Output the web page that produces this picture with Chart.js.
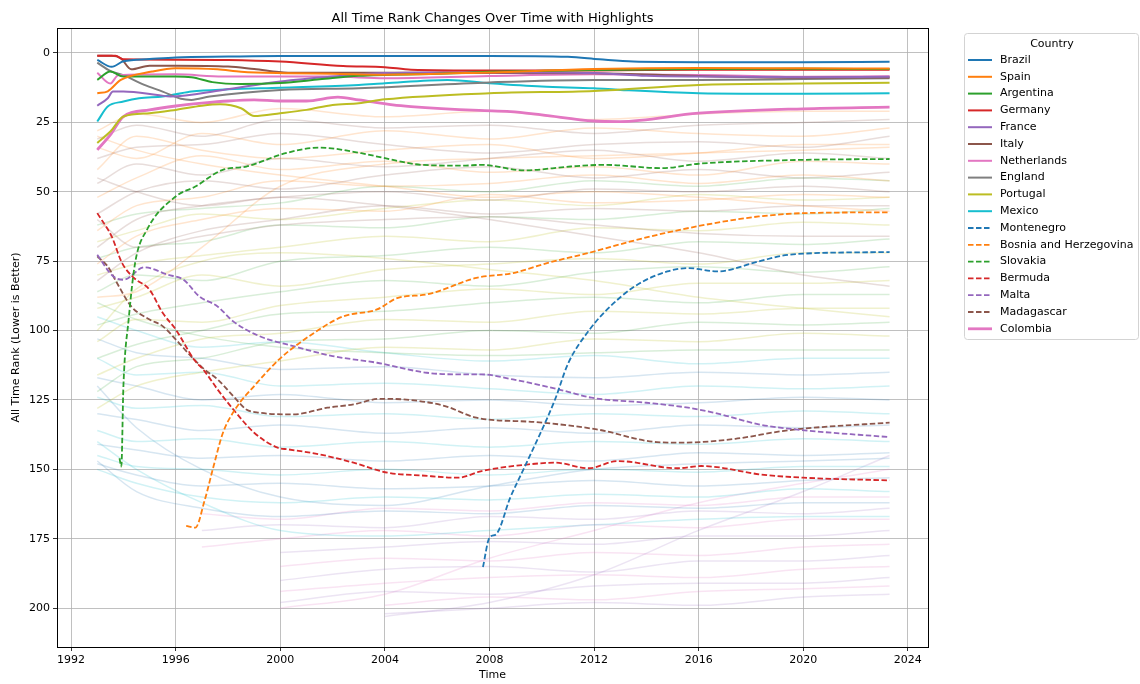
<!DOCTYPE html>
<html>
<head>
<meta charset="utf-8">
<title>All Time Rank Changes Over Time with Highlights</title>
<script src="https://cdn.jsdelivr.net/npm/chart.js@4.4.1/dist/chart.umd.min.js"></script>
<style>
    html, body { margin: 0; padding: 0; background: #fff; }
    canvas { display: block; }
</style>
</head>
<body>
<canvas id="rankChart" width="1140" height="684"></canvas>
<script>
// Highlighted countries: [year, rank] pairs
var brazil = [[1993, 2.5], [1993.55, 5], [1994, 3], [1995, 2.2], [1996, 1.6], [1998, 1.3], [2000, 1.1], [2004, 1.1], [2008, 1.1], [2011, 1.4], [2012.2, 2.3], [2013.5, 3.1], [2016, 3.3], [2020, 3.3], [2023.3, 3.2]];
var spain = [[1993, 14.5], [1993.4, 13.8], [1993.9, 9.7], [1995.1, 6.7], [1996, 5.5], [1997.6, 5.9], [1998.5, 6.8], [2000.3, 7.3], [2002, 7.5], [2004, 7.8], [2008, 7], [2012, 5.8], [2016, 5.4], [2020, 5.5], [2023.3, 5.6]];
var argentina = [[1993, 9.7], [1993.5, 6.7], [1994, 8.5], [1996, 8.5], [1996.6, 8.7], [1997.4, 10.5], [1998.5, 11.2], [2000, 10.8], [2001.5, 9.5], [2003, 8.2], [2006, 7.5], [2008, 6.8], [2012, 6.1], [2016, 5.8], [2020, 5.7], [2023.3, 5.8]];
var germany = [[1993, 1], [1993.7, 1], [1994, 2.3], [1996, 2.4], [1998, 2.5], [2000, 3.1], [2002.4, 4.7], [2004, 5.1], [2005, 6], [2008, 6.3], [2012, 6.3], [2016, 6], [2020, 6], [2023.3, 6]];
var france = [[1993, 19], [1993.4, 16.3], [1993.6, 13.9], [1994, 13.9], [1995.3, 15.1], [1995.8, 15.7], [1997.8, 13.3], [2000, 10.3], [2002, 8.5], [2004, 7.2], [2008, 6.9], [2012, 7.2], [2014, 8.2], [2016, 8.5], [2020, 8.7], [2023.3, 8.6]];
var italy = [[1993, 1], [1993.55, 1], [1993.9, 1.9], [1994.3, 5.9], [1995, 4.6], [1996, 4.6], [1998, 4.9], [1999, 5.8], [2000.3, 7.1], [2003, 7.1], [2008, 7.2], [2012, 7.3], [2016, 8.3], [2020, 8.9], [2023.3, 8.8]];
var netherlands = [[1993, 7.1], [1993.5, 11], [1993.8, 8], [1996, 7.7], [1997.8, 8.5], [2002, 8.5], [2004, 9.1], [2008, 8.3], [2012, 7.7], [2016, 7.9], [2020, 8.6], [2023.3, 8.4]];
var england = [[1993, 3.5], [1993.5, 6.5], [1994, 8], [1994.8, 11.5], [1995.5, 13.9], [1996.2, 16.5], [1996.6, 16.9], [1997.3, 15.7], [2000, 13.3], [2003, 12.7], [2008, 10.6], [2012, 9.7], [2016, 9.7], [2020, 9.4], [2023.3, 9.1]];
var portugal = [[1993, 32.4], [1993.5, 28.3], [1994, 22.9], [1995, 21.7], [1996, 20.5], [1997, 19], [1997.7, 18.5], [1998.5, 19.9], [1999, 22.7], [2000, 21.7], [2001, 20.5], [2002, 18.7], [2003, 18.1], [2004, 16.7], [2008, 14.5], [2012, 13.7], [2016, 11.5], [2020, 11], [2023.3, 10.7]];
var mexico = [[1993, 24.7], [1993.4, 19.3], [1994, 17.5], [1994.6, 16.3], [1995.5, 15.7], [1996, 14.9], [1996.6, 13.9], [1998, 13.1], [2000, 12.5], [2003, 11.5], [2004, 10.9], [2006.4, 9.7], [2008, 10.9], [2010, 12.1], [2012, 12.7], [2013, 13.3], [2016, 14.5], [2020, 14.7], [2023.3, 14.5]];
var montenegro = [[2007.75, 185.2], [2008, 174.6], [2008.25, 173.4], [2008.8, 160], [2009.3, 150], [2010.5, 125], [2011, 112], [2011.8, 100], [2012.5, 92.4], [2013.55, 84.1], [2014.8, 78.7], [2015.6, 77.5], [2016.7, 78.7], [2018.3, 75.1], [2019.2, 73], [2020, 72.3], [2023.3, 71.7]];
var bosnia = [[1996.4, 170.4], [1996.75, 171], [1997.1, 161.4], [1997.45, 148.8], [1997.8, 137], [1998.3, 128], [1999, 120], [2000, 110], [2001.3, 100.8], [2002.4, 94.9], [2003.7, 92.4], [2004.5, 88.2], [2005.6, 87], [2007.5, 81], [2008.9, 79.3], [2010.2, 75.7], [2011.8, 72], [2013.4, 67.9], [2014.7, 64.9], [2016.6, 61.3], [2018.3, 58.9], [2020, 57.7], [2023.3, 57.4]];
var slovakia = [[1993.85, 146], [1993.92, 149], [1994, 120], [1994.2, 96], [1994.45, 75.5], [1994.9, 63.7], [1996, 51.7], [1996.75, 48.1], [1997.8, 42.1], [1998.7, 40.9], [2000.2, 36.1], [2001.5, 34.1], [2003.1, 36.1], [2004, 37.9], [2005.4, 40.3], [2007, 40.6], [2007.7, 40.3], [2009.3, 42.3], [2011.1, 40.9], [2012.4, 40.3], [2014.6, 41.5], [2016, 39.9], [2020, 38.5], [2023.3, 38.2]];
var bermuda = [[1993, 57.7], [1993.55, 66.1], [1993.95, 75.7], [1994.4, 81], [1995, 85.3], [1995.5, 93.6], [1996, 99.6], [1996.7, 110.4], [1997.1, 114.6], [1997.6, 121.2], [1998.2, 128.4], [1999, 136.8], [1999.9, 142.2], [2000.3, 142.8], [2001.5, 144.6], [2002.8, 147.6], [2004.1, 151.2], [2005.4, 152.2], [2006.8, 153], [2007.7, 150.6], [2009.5, 148.2], [2010.5, 147.6], [2011.8, 149.6], [2012.9, 147], [2015.2, 149.6], [2016.1, 148.8], [2018.5, 152], [2020, 153], [2023.3, 154]];
var malta = [[1993, 72.7], [1993.6, 80.4], [1994, 81.7], [1994.8, 77.2], [1995.7, 79.9], [1996.3, 81.7], [1996.9, 87.7], [1997.6, 91.3], [1998.2, 96.7], [1999.2, 102], [2000.5, 105.6], [2002, 109.2], [2003.7, 111.6], [2005.6, 115.2], [2006.9, 115.8], [2007.7, 115.8], [2008.9, 117.6], [2010.9, 121.8], [2011.9, 124.2], [2014, 126], [2015.6, 127.8], [2016.85, 130.2], [2018.3, 133.8], [2019.7, 135.6], [2023.3, 138.4]];
var madagascar = [[1993, 73.3], [1993.4, 76.9], [1993.75, 82.8], [1994.3, 91.3], [1995, 96], [1995.5, 98.4], [1996, 103.2], [1996.7, 110.4], [1997.1, 114], [1997.6, 117.6], [1998.2, 123.6], [1998.7, 128.4], [1999.2, 129.6], [2000.5, 130.2], [2001.8, 127.8], [2002.8, 126.6], [2003.8, 124.6], [2004.7, 124.8], [2006.3, 127.2], [2007.5, 131.4], [2009.8, 133], [2012.1, 135.6], [2014.4, 140.2], [2015.3, 140.4], [2017.4, 139], [2019.2, 136.2], [2020.4, 135], [2023.3, 133.2]];
var colombia = [[1993, 34.9], [1993.5, 29.5], [1994, 22.9], [1995, 20.5], [1996, 19.1], [1997, 18.1], [1998, 17.3], [1999, 16.9], [2000, 17.3], [2001, 17.3], [2002.2, 15.9], [2003, 16.9], [2004.3, 18.7], [2005, 19.3], [2007.6, 20.7], [2008.8, 21.1], [2010, 22.3], [2012, 24.5], [2013, 24.7], [2016, 21.7], [2020, 20.1], [2023.3, 19.5]];

var highlightNames = ['Brazil', 'Spain', 'Argentina', 'Germany', 'France', 'Italy', 'Netherlands', 'England', 'Portugal', 'Mexico',
    'Montenegro', 'Bosnia and Herzegovina', 'Slovakia', 'Bermuda', 'Malta', 'Madagascar', 'Colombia'];
var highlightSeries = [brazil, spain, argentina, germany, france, italy, netherlands, england, portugal, mexico,
    montenegro, bosnia, slovakia, bermuda, malta, madagascar, colombia];

// All other countries (faint lines), ranks at these years; null = not ranked yet
var bgYears = [1993, 1994.5, 1997, 2000, 2004, 2008, 2012, 2016, 2020, 2023.3];
var bgTop = [
    [28, 22, 25, 20, 23, 21, 24, 22, 21, 21],
    [31, 26, 30, 24, 27, 26, 29, 26, 25, 24],
    [34, 38, 29, 33, 28, 31, 27, 29, 30, 27],
    [38, 34, 33, 29, 33, 36, 33, 32, 34, 30],
    [42, 30, 35, 38, 35, 33, 38, 36, 33, 33],
    [47, 40, 44, 38, 41, 38, 35, 39, 36, 38],
    [52, 45, 37, 42, 39, 43, 41, 44, 39, 40],
    [58, 50, 46, 49, 44, 41, 45, 42, 45, 43],
    [64, 55, 52, 46, 48, 47, 44, 47, 44, 46],
    [70, 60, 55, 52, 50, 53, 49, 50, 48, 50],
    [76, 66, 60, 56, 57, 51, 54, 53, 51, 52],
    [82, 72, 64, 60, 55, 58, 56, 57, 55, 55],
    [88, 86, 70, 48, 40, 38, 37, 36, 35, 34],
    [45, 50, 55, 52, 55, 60, 66, 72, 80, 84],
    [30, 35, 40, 44, 48, 52, 50, 52, 55, 57],
    [60, 70, 66, 62, 60, 59, 62, 65, 66, 66]
];
var bgMid = [
    [62, 58, 56, 54, 48, 50, 46, 48, 45, 46],
    [68, 64, 58, 60, 56, 53, 55, 51, 53, 52],
    [74, 70, 68, 62, 63, 59, 60, 57, 58, 56],
    [80, 76, 73, 70, 66, 68, 63, 64, 61, 62],
    [86, 80, 82, 75, 73, 70, 72, 68, 69, 67],
    [92, 88, 80, 84, 78, 76, 74, 76, 72, 72],
    [98, 94, 90, 86, 82, 84, 79, 77, 79, 77],
    [104, 96, 97, 91, 88, 85, 87, 83, 83, 82],
    [110, 105, 100, 94, 93, 90, 88, 90, 87, 87],
    [116, 110, 103, 101, 96, 97, 93, 94, 92, 92],
    [122, 113, 110, 104, 103, 100, 101, 97, 98, 97],
    [128, 120, 115, 111, 106, 107, 103, 104, 101, 102],
    [90, 96, 102, 106, 108, 109, 108, 107, 107, 107],
    [100, 85, 75, 72, 74, 78, 82, 88, 92, 95]
];
var bgLow = [
    [95, 100, 106, 104, 108, 111, 109, 112, 110, 110],
    [103, 108, 110, 114, 113, 116, 117, 115, 116, 115],
    [110, 116, 115, 120, 119, 121, 123, 120, 121, 120],
    [117, 120, 125, 123, 126, 125, 127, 126, 124, 125],
    [124, 128, 127, 131, 130, 132, 130, 131, 129, 130],
    [130, 132, 136, 134, 137, 135, 137, 134, 135, 134],
    [136, 140, 139, 142, 140, 142, 140, 141, 139, 140],
    [141, 143, 146, 145, 147, 145, 147, 144, 145, 144],
    [145, 149, 150, 152, 150, 152, 150, 151, 149, 149],
    [148, 152, 156, 155, 157, 156, 154, 156, 154, 153],
    [150, 155, 160, 162, 160, 161, 159, 160, 157, 158],
    [147, 158, 164, 167, 165, 166, 163, 164, 162, 162],
    [140, 150, 162, 172, 174, 172, 170, 168, 167, 167],
    [120, 135, 150, 160, 163, 156, 150, 148, 147, 146]
];
var bgLate = [
    [null, null, 166, 168, 164, 165, 162, 163, 160, 160],
    [null, null, 172, 170, 171, 167, 168, 165, 166, 164],
    [null, null, 178, 175, 172, 174, 170, 171, 168, 168],
    [null, null, null, 180, 178, 176, 177, 174, 174, 172],
    [null, null, null, 185, 182, 183, 180, 181, 178, 177],
    [null, null, null, 190, 186, 185, 187, 183, 183, 181],
    [null, null, null, 194, 191, 189, 188, 189, 186, 185],
    [null, null, null, 198, 194, 195, 192, 191, 191, 189],
    [null, null, null, null, 199, 196, 197, 194, 193, 192],
    [null, null, null, null, 202, 200, 198, 199, 196, 195],
    [null, null, null, 200, 195, 182, 172, 162, 155, 150],
    [null, null, null, null, 203, 198, 188, 172, 158, 145]
];

var xTicks = [1992, 1996, 2000, 2004, 2008, 2012, 2016, 2020, 2024];
var yTicks = [0, 25, 50, 75, 100, 125, 150, 175, 200];

////////////////////////////////////////////////////////////////////////////////

var tab = ['#1f77b4', '#ff7f0e', '#2ca02c', '#d62728', '#9467bd', '#8c564b', '#e377c2', '#7f7f7f', '#bcbd22', '#17becf'];
var fontFamily = '"DejaVu Sans", sans-serif';

function highlightStyle(i) {
    var dashed = i >= 10 && i <= 15;
    return {
        color: tab[i % 10],
        dash: dashed ? [5.5, 2.5] : [],
        width: highlightNames[i] === 'Colombia' ? 2.8 : (dashed ? 1.8 : 2)
    };
}

function toPoints(pairs) {
    return pairs.map(function (p) { return {x: p[0], y: p[1]}; });
}

function bgPoints(ranks) {
    var pts = [];
    ranks.forEach(function (r, i) {
        if (r !== null) { pts.push({x: bgYears[i], y: r}); }
    });
    return pts;
}

var datasets = [];
var bgGroups = [
    {rows: bgTop, colors: ['rgba(255,127,14,0.2)', 'rgba(140,86,75,0.2)']},
    {rows: bgMid, colors: ['rgba(44,160,44,0.18)', 'rgba(188,189,34,0.22)']},
    {rows: bgLow, colors: ['rgba(23,190,207,0.2)', 'rgba(31,119,180,0.18)']},
    {rows: bgLate, colors: ['rgba(227,119,194,0.2)', 'rgba(148,103,189,0.18)']}
];
bgGroups.forEach(function (g) {
    g.rows.forEach(function (ranks, i) {
        datasets.push({
            data: bgPoints(ranks),
            borderColor: g.colors[i % 2],
            borderWidth: 1.5,
            pointRadius: 0,
            cubicInterpolationMode: 'monotone',
            order: 2
        });
    });
});
highlightSeries.forEach(function (pairs, i) {
    var s = highlightStyle(i);
    datasets.push({
        label: highlightNames[i],
        data: toPoints(pairs),
        borderColor: s.color,
        borderWidth: s.width,
        borderDash: s.dash,
        pointRadius: 0,
        cubicInterpolationMode: 'monotone',
        order: 1
    });
});

// black frame round the plot, like matplotlib spines
var frame = {
    id: 'frame',
    afterDraw: function (chart) {
        var a = chart.chartArea;
        var ctx = chart.ctx;
        ctx.save();
        ctx.strokeStyle = '#000';
        ctx.lineWidth = 1;
        ctx.strokeRect(Math.round(a.left) + 0.5, Math.round(a.top) + 0.5, Math.round(a.right - a.left), Math.round(a.bottom - a.top));
        ctx.restore();
    }
};

// legend drawn to the right of the plot
var sideLegend = {
    id: 'sideLegend',
    afterDraw: function (chart) {
        var ctx = chart.ctx;
        ctx.save();
        ctx.fillStyle = 'rgba(255,255,255,0.8)';
        ctx.strokeStyle = '#d3d3d3';
        ctx.lineWidth = 1;
        ctx.beginPath();
        ctx.roundRect(964.5, 33.5, 174, 306, 3);
        ctx.fill();
        ctx.stroke();
        ctx.fillStyle = '#000';
        ctx.font = '11px ' + fontFamily;
        ctx.textBaseline = 'middle';
        ctx.textAlign = 'center';
        ctx.fillText('Country', 1052, 44);
        ctx.textAlign = 'left';
        highlightNames.forEach(function (name, i) {
            var s = highlightStyle(i);
            var y = 60 + i * 16.8;
            ctx.strokeStyle = s.color;
            ctx.lineWidth = s.width;
            ctx.setLineDash(s.dash);
            ctx.beginPath();
            ctx.moveTo(968, y);
            ctx.lineTo(992, y);
            ctx.stroke();
            ctx.fillText(name, 1000, y);
        });
        ctx.restore();
    }
};

var config = {
    type: 'line',
    data: { datasets: datasets },
    options: {
        responsive: false,
        animation: false,
        events: [],
        devicePixelRatio: 1,
        layout: { padding: { right: 212 } },
        plugins: {
            legend: { display: false },
            tooltip: { enabled: false },
            title: {
                display: true,
                fullSize: false,
                text: 'All Time Rank Changes Over Time with Highlights',
                color: '#000',
                font: { family: fontFamily, size: 13, weight: 'normal' },
                padding: { top: 11, bottom: 1.4 }
            }
        },
        scales: {
            x: {
                type: 'linear',
                min: 1991.46,
                max: 2024.77,
                afterBuildTicks: function (s) { s.ticks = xTicks.map(function (v) { return {value: v}; }); },
                afterFit: function (s) { s.height = 37; },
                ticks: {
                    color: '#000',
                    font: { family: fontFamily, size: 11 },
                    padding: 3,
                    maxRotation: 0,
                    autoSkip: false,
                    callback: function (v) { return String(v); }
                },
                grid: { color: '#b0b0b0', lineWidth: 0.8, tickColor: '#000', tickLength: 4 },
                border: { display: false },
                title: {
                    display: true,
                    text: 'Time',
                    color: '#000',
                    font: { family: fontFamily, size: 11 },
                    padding: { top: 0, bottom: 2 }
                }
            },
            y: {
                type: 'linear',
                reverse: true,
                min: -9,
                max: 214,
                afterBuildTicks: function (s) { s.ticks = yTicks.map(function (v) { return {value: v}; }); },
                afterFit: function (s) { s.width = 57; },
                ticks: {
                    color: '#000',
                    font: { family: fontFamily, size: 11 },
                    padding: 3,
                    autoSkip: false,
                    callback: function (v) { return String(v); }
                },
                grid: { color: '#b0b0b0', lineWidth: 0.8, tickColor: '#000', tickLength: 4 },
                border: { display: false },
                title: {
                    display: true,
                    text: 'All Time Rank (Lower is Better)',
                    color: '#000',
                    font: { family: fontFamily, size: 11 },
                    padding: { top: 10, bottom: 0 }
                }
            }
        }
    },
    plugins: [frame, sideLegend]
};

var rankChart = new Chart(document.getElementById('rankChart'), config);
</script>
</body>
</html>
